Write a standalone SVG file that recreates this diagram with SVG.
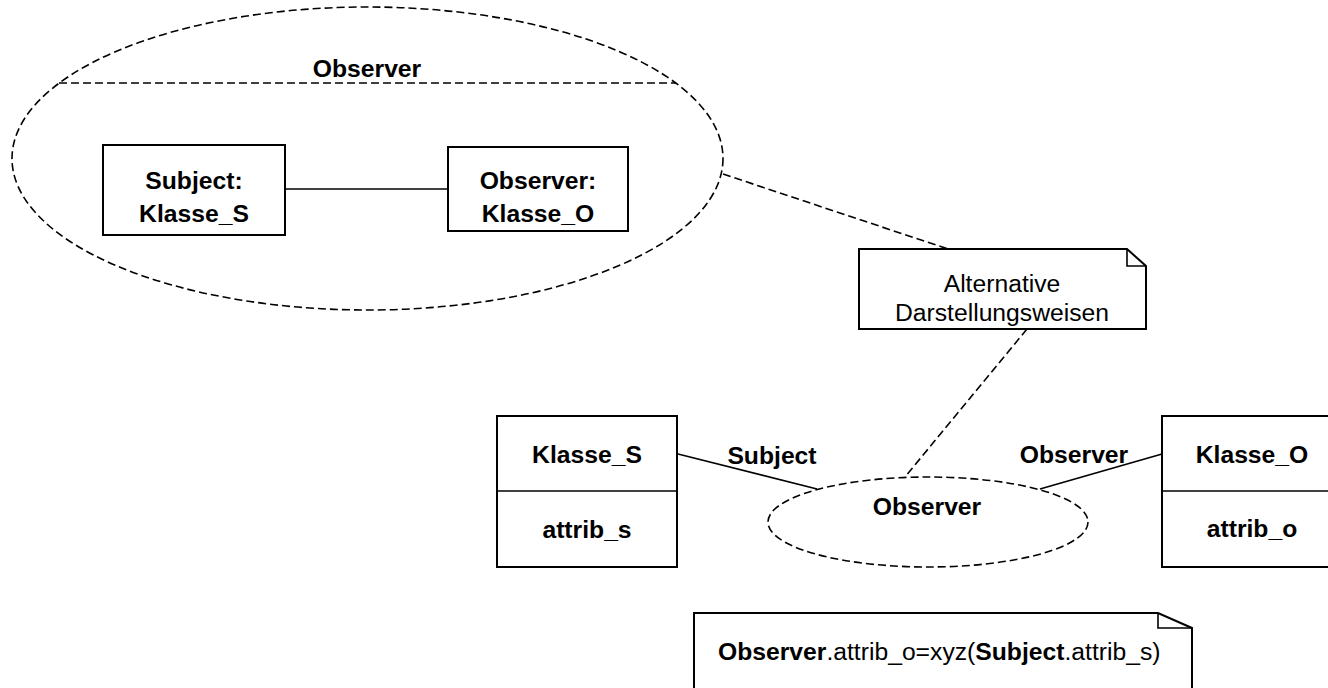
<svg xmlns="http://www.w3.org/2000/svg" width="1328" height="688" viewBox="0 0 1328 688">
<style>
text{font-family:"Liberation Sans",Arial,sans-serif;font-size:24.7px;fill:#000}
.b{font-weight:bold}
.c{text-anchor:middle}
.box{fill:#fff;stroke:#000;stroke-width:2}
.dash{fill:none;stroke:#000;stroke-width:1.6;stroke-dasharray:8 4}
.line{fill:none;stroke:#000;stroke-width:1.6}
</style>
<rect width="1328" height="688" fill="#fff"/>
<g id="collab">
<ellipse class="dash" cx="367.5" cy="158.5" rx="355.5" ry="151.5"/>
<line class="dash" x1="59" y1="83" x2="676" y2="83"/>
<text class="b c" x="367" y="77">Observer</text>
</g>
<g id="connectors">
<line class="line" x1="285" y1="189" x2="448" y2="189"/>
<line class="dash" x1="723" y1="174" x2="948" y2="249"/>
<line class="dash" x1="1027" y1="329" x2="905" y2="477"/>
<line class="line" x1="678" y1="454" x2="817" y2="489"/>
<line class="line" x1="1040" y1="489" x2="1162" y2="454"/>
<text class="b c" x="772" y="464">Subject</text>
<text class="b c" x="1074" y="463">Observer</text>
</g>
<g id="subject">
<rect class="box" x="103" y="145" width="182" height="90"/>
<text class="b c" x="194" y="189">Subject:</text>
<text class="b c" x="194" y="222">Klasse_S</text>
</g>
<g id="observer">
<rect class="box" x="448" y="147" width="180" height="84"/>
<text class="b c" x="538" y="189">Observer:</text>
<text class="b c" x="538" y="222">Klasse_O</text>
</g>
<g id="note1">
<path class="box" d="M859,249 H1127 L1146,266 V329 H859 Z"/>
<path class="line" d="M1127,249 V266 H1146" stroke-width="2"/>
<text class="c" x="1002" y="292">Alternative</text>
<text class="c" x="1002" y="321">Darstellungsweisen</text>
</g>
<g id="klasse_s">
<rect class="box" x="497" y="416" width="180" height="151"/>
<line class="line" x1="497" y1="491" x2="677" y2="491" stroke-width="2"/>
<text class="b c" x="587" y="463">Klasse_S</text>
<text class="b c" x="587" y="538">attrib_s</text>
</g>
<g id="assoc">
<ellipse class="dash" cx="928" cy="522" rx="160" ry="45"/>
<text class="b c" x="927" y="515">Observer</text>
</g>
<g id="klasse_o">
<rect class="box" x="1162" y="416" width="180" height="151"/>
<line class="line" x1="1162" y1="491" x2="1342" y2="491" stroke-width="2"/>
<text class="b c" x="1252" y="463">Klasse_O</text>
<text class="b c" x="1252" y="537">attrib_o</text>
</g>
<g id="note2">
<path class="box" d="M694,613 H1158 L1192,628 V700 H694 Z"/>
<path class="line" d="M1158,613 V628 H1192" stroke-width="2"/>
<text x="718" y="660"><tspan class="b">Observer</tspan>.attrib_o=xyz(<tspan class="b">Subject</tspan>.attrib_s)</text>
</g>
</svg>
